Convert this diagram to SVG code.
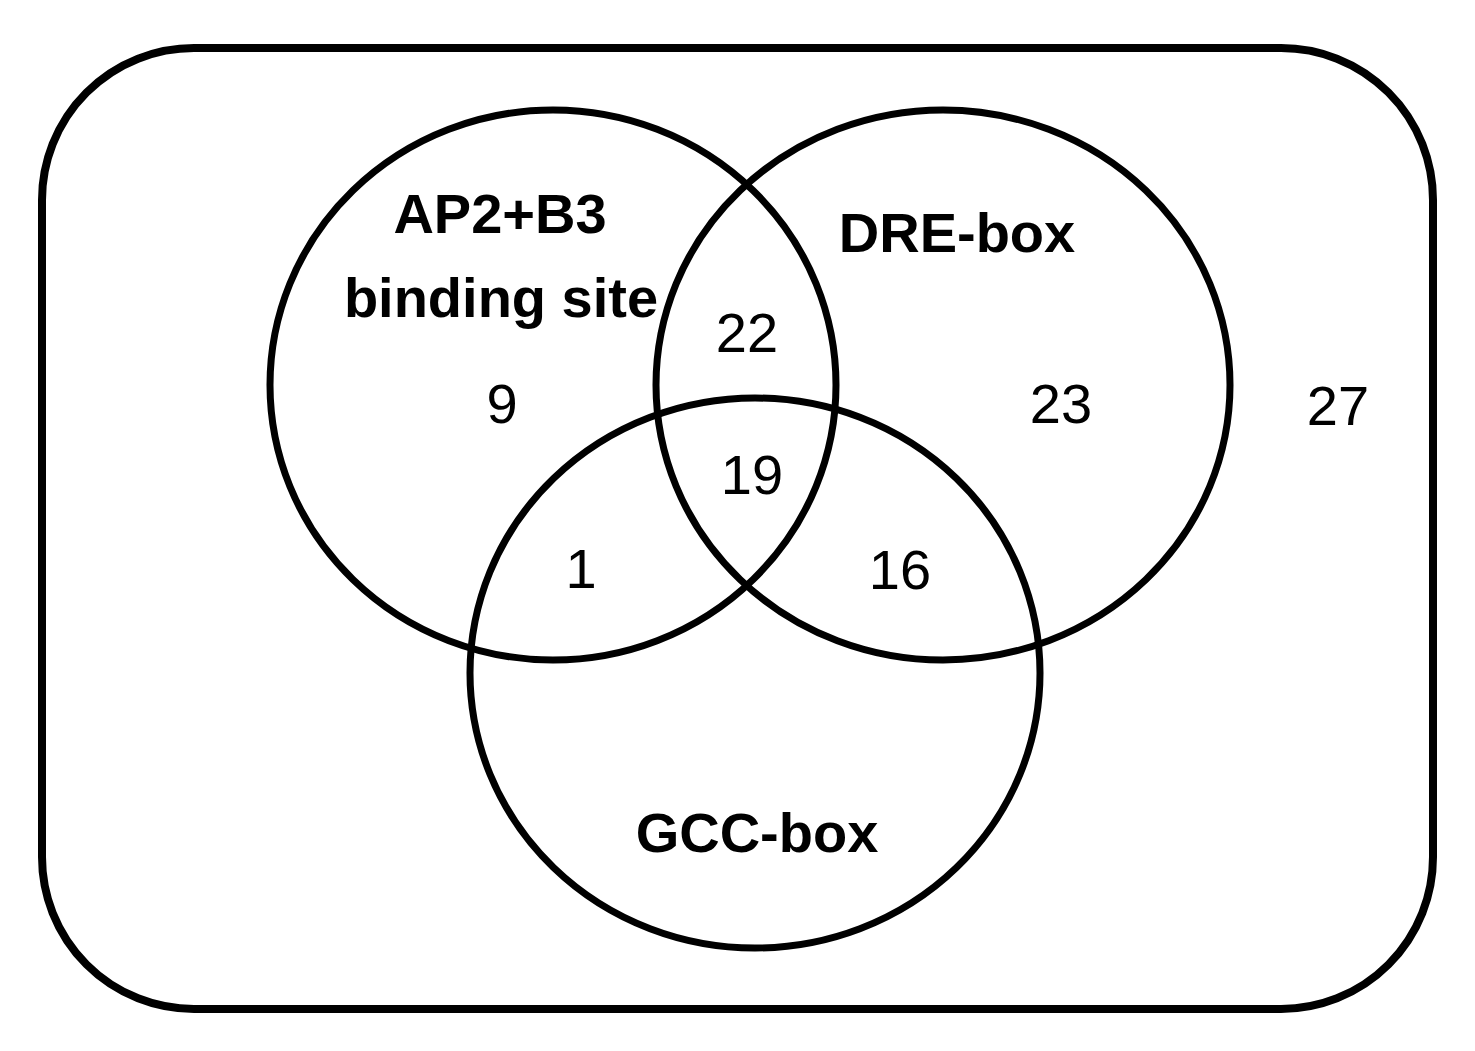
<svg xmlns="http://www.w3.org/2000/svg" width="1475" height="1051" viewBox="0 0 1475 1051">
<style>
.frame{fill:none;stroke:#000;stroke-width:8}
.set{fill:none;stroke:#000;stroke-width:7}
.lbl{font-family:"Liberation Sans",Arial,sans-serif;font-size:56px;font-weight:bold;fill:#000;text-anchor:middle}
.num{font-family:"Liberation Sans",Arial,sans-serif;font-size:56px;fill:#000;text-anchor:middle}
</style>
<rect width="1475" height="1051" fill="#fff"/>
<g id="universe">
<rect class="frame" x="42" y="48" width="1391" height="961" rx="152" ry="152"/>
<text class="num" x="1338" y="425">27</text>
</g>
<g id="ap2b3">
<ellipse class="set" cx="553" cy="385" rx="283" ry="275"/>
<text class="lbl" x="500" y="233">AP2+B3</text>
<text class="lbl" x="501" y="317">binding site</text>
<text class="num" x="502" y="423">9</text>
</g>
<g id="dre">
<ellipse class="set" cx="943" cy="385" rx="287" ry="275"/>
<text class="lbl" x="957" y="252">DRE-box</text>
<text class="num" x="1061" y="423">23</text>
</g>
<g id="gcc">
<ellipse class="set" cx="755" cy="673" rx="285" ry="275"/>
<text class="lbl" x="757" y="852">GCC-box</text>
</g>
<g id="intersections">
<text class="num" x="747" y="352">22</text>
<text class="num" x="752" y="494">19</text>
<text class="num" x="581" y="588">1</text>
<text class="num" x="900" y="589">16</text>
</g>
<g id="connectors"></g>
</svg>
